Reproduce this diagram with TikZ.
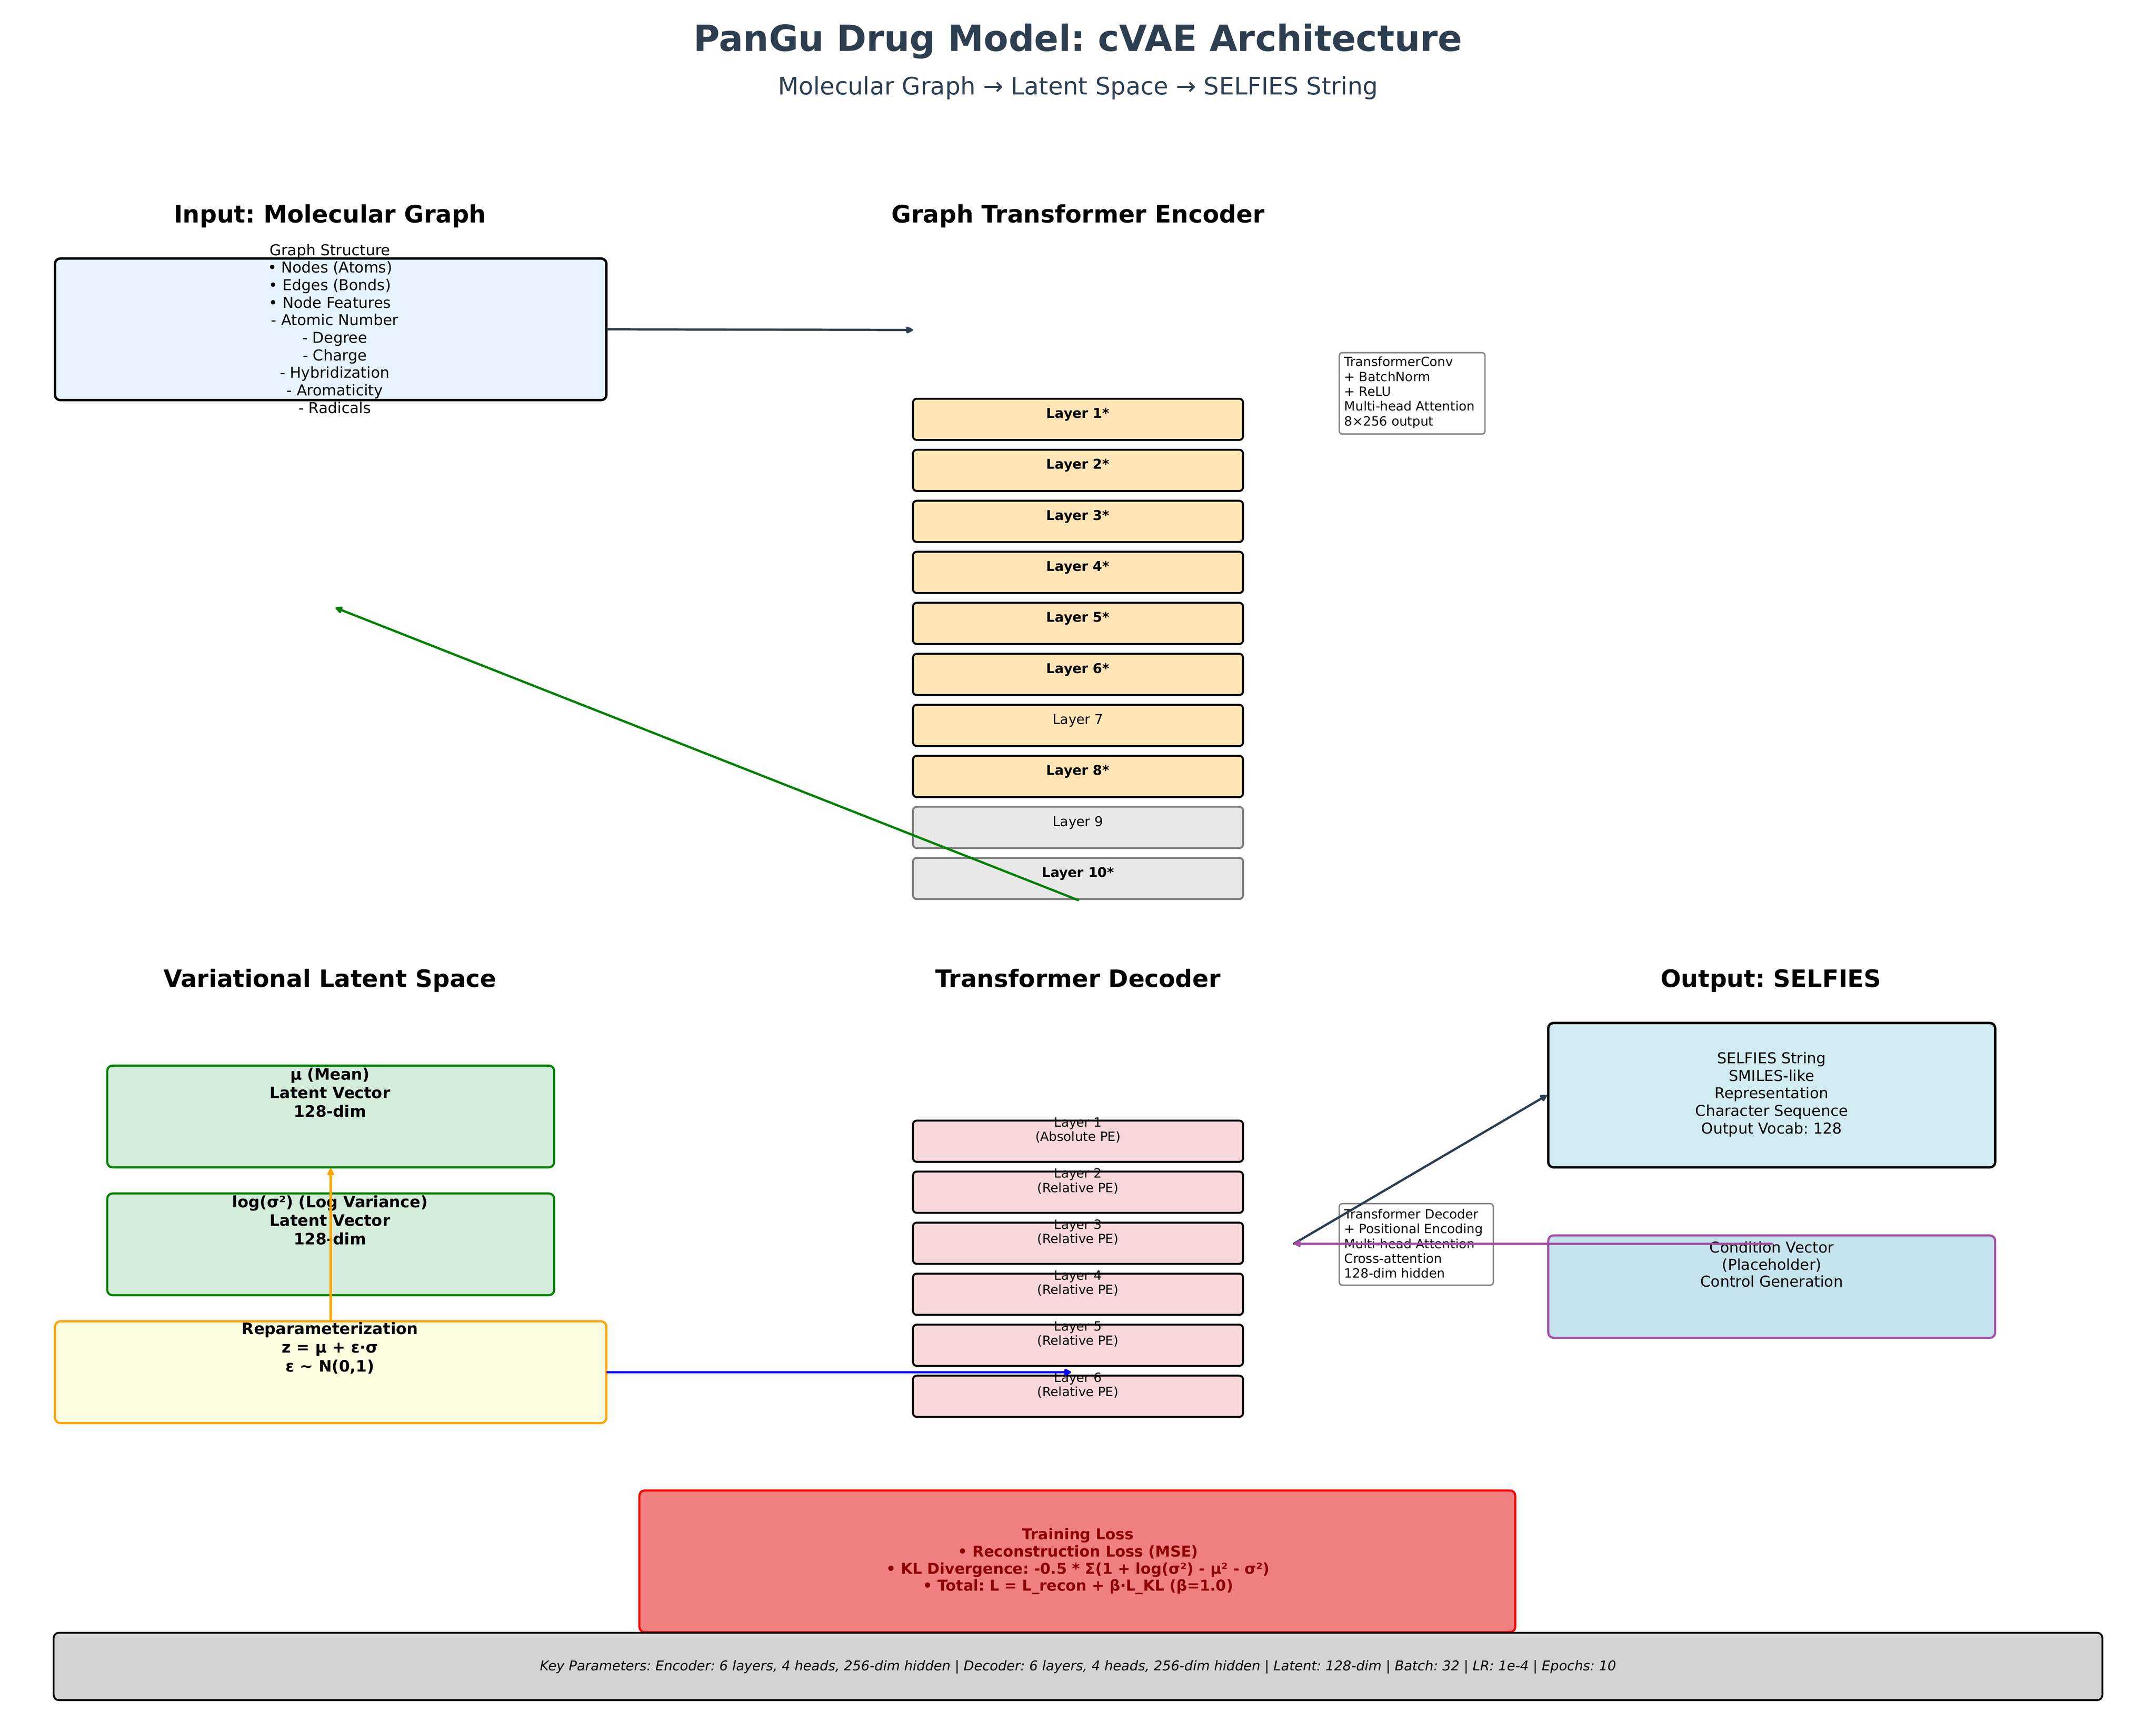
\documentclass[tikz,border=0pt]{standalone}
\usepackage{fontspec}
\setmainfont{DejaVu Sans}
\usetikzlibrary{fit,arrows.meta}

\definecolor{titlecol}{HTML}{2C3E50}
\definecolor{inputfill}{HTML}{E7F3FC}
\definecolor{encfill}{HTML}{FFE4B5}
\definecolor{offfill}{HTML}{E8E8E8}
\definecolor{latfill}{HTML}{D4EDDA}
\definecolor{latline}{HTML}{008000}
\definecolor{repfill}{HTML}{FFFDE0}
\definecolor{repline}{HTML}{FFA500}
\definecolor{decfill}{HTML}{F8D7DA}
\definecolor{outfill}{HTML}{D1ECF1}
\definecolor{condfill}{HTML}{C5E3ED}
\definecolor{condline}{HTML}{A64DA6}
\definecolor{lossfill}{HTML}{F08080}
\definecolor{losstext}{HTML}{8B0000}
\definecolor{paramfill}{HTML}{D3D3D3}

\tikzset{
  box/.style={draw, line width=1.4pt, rounded corners=3.5pt, inner sep=0pt},
  enclayer/.style={box, line width=1.3pt, rounded corners=2.5pt},
  note/.style={draw=gray, line width=0.9pt, rounded corners=2pt, fill=white, inner sep=0pt},
  notetext/.style={font=\fontsize{8.5}{9.9}\selectfont, align=left, anchor=west, inner sep=0pt},
  header/.style={font=\fontsize{16}{19}\selectfont\bfseries, text height=12.2pt, text depth=3.8pt},
  txt/.style={font=\fontsize{10}{11.7}\selectfont, align=center, inner sep=0pt},
  btxt/.style={txt, font=\fontsize{10.5}{12.4}\selectfont\bfseries},
  link/.style={->, line width=1.5pt, line cap=round},
}
\frenchspacing

\begin{document}
\begin{tikzpicture}[x=0.032236cm, y=-0.032236cm, >={Triangle[length=5.5pt,width=5pt,round]}]
\fill[white] (0,0) rectangle (1568,1253);
% titles
\node[font=\fontsize{24}{29}\selectfont\bfseries, text=titlecol] (title) at (784,30) {PanGu Drug Model: cVAE Architecture};
\node[font=\fontsize{16}{19}\selectfont, text=titlecol] (subtitle) at (784,64) {Molecular Graph → Latent Space → SELFIES String};
\node[header] (h-input) at (240,157.5) {Input: Molecular Graph};
\node[header] (h-enc) at (784,157.5) {Graph Transformer Encoder};
\node[header] (h-latent) at (240,713.5) {Variational Latent Space};
\node[header] (h-dec) at (784,713.5) {Transformer Decoder};
\node[header] (h-out) at (1288,713.5) {Output: SELFIES};

% input graph
\node[box, line width=1.6pt, fill=inputfill, fit={(40,188) (441,291)}] (input) {};
\node[txt] (input-txt) at (240,239) {Graph Structure\\• Nodes (Atoms)\\• Edges (Bonds)\\• Node Features\\\mbox{}\ \ - Atomic Number\\\mbox{}\ \ - Degree\\\mbox{}\ \ - Charge\\\mbox{}\ \ - Hybridization\\\mbox{}\ \ - Aromaticity\\\mbox{}\ \ - Radicals};

% encoder stack
\foreach \i/\lbl/\fc/\dc/\wt in {1/Layer 1*/encfill/black/\bfseries, 2/Layer 2*/encfill/black/\bfseries,
    3/Layer 3*/encfill/black/\bfseries, 4/Layer 4*/encfill/black/\bfseries, 5/Layer 5*/encfill/black/\bfseries,
    6/Layer 6*/encfill/black/\bfseries, 7/Layer 7/encfill/black/\mdseries, 8/Layer 8*/encfill/black/\bfseries,
    9/Layer 9/offfill/gray/\mdseries, 10/Layer 10*/offfill/gray/\bfseries}{
  \pgfmathsetmacro\ytop{290+37.1*(\i-1)}
  \node[enclayer, draw=\dc, fill=\fc, fit={(664,\ytop) (904,\ytop+30)}] (enc\i) {};
  \node[font=\fontsize{9}{11}\selectfont\wt, inner sep=0pt] (enc\i-txt) at (784,\ytop+11.5) {\lbl};
}
\node[note, fit={(974,256.5) (1080,315.7)}] (encnote) {};
\node[notetext] (encnote-txt) at (977.5,285.5) {TransformerConv\\+ BatchNorm\\+ ReLU\\Multi-head Attention\\8×256 output};

% latent space
\node[box, draw=latline, fill=latfill, fit={(78,775) (403,849)}] (mu) {};
\node[btxt] (mu-txt) at (240,794.7) {μ (Mean)\\Latent Vector\\128-dim};
\node[box, draw=latline, fill=latfill, fit={(78,868) (403,942)}] (logvar) {};
\node[btxt] (logvar-txt) at (240,887.5) {log(σ²) (Log Variance)\\Latent Vector\\128-dim};
\node[box, draw=repline, fill=repfill, fit={(40,961) (441,1035)}] (reparam) {};
\node[btxt] (reparam-txt) at (240,980.5) {Reparameterization\\z = μ + ε·σ\\ε \textasciitilde{} N(0,1)};

% decoder stack
\foreach \i/\pe in {1/Absolute, 2/Relative, 3/Relative, 4/Relative, 5/Relative, 6/Relative}{
  \pgfmathsetmacro\ytop{815+37.1*(\i-1)}
  \node[enclayer, fill=decfill, fit={(664,\ytop) (904,\ytop+30)}] (dec\i) {};
  \node[font=\fontsize{8.5}{9.6}\selectfont, align=center, inner sep=0pt] (dec\i-txt) at (784,\ytop+7) {Layer \i\\(\pe\ PE)};
}
\node[note, fit={(974,875.4) (1086,934.7)}] (decnote) {};
\node[notetext] (decnote-txt) at (977.5,904.4) {Transformer Decoder\\+ Positional Encoding\\Multi-head Attention\\Cross-attention\\128-dim hidden};

% output
\node[box, line width=1.6pt, fill=outfill, fit={(1126,744) (1451,849)}] (selfies) {};
\node[txt] (selfies-txt) at (1288.5,796) {SELFIES String\\SMILES-like\\Representation\\Character Sequence\\Output Vocab: 128};
\node[box, draw=condline, fill=condfill, fit={(1126,898.5) (1451,973)}] (cond) {};
\node[txt, font=\fontsize{10}{11.35}\selectfont] (cond-txt) at (1288.5,919.5) {Condition Vector\\(Placeholder)\\Control Generation};

% loss and parameters
\node[box, draw=red, fill=lossfill, fit={(465,1084) (1102,1187)}] (loss) {};
\node[txt, font=\fontsize{10}{11.5}\selectfont\bfseries, text=losstext] (loss-txt) at (784,1135.5) {Training Loss\\• Reconstruction Loss (MSE)\\• KL Divergence: -0.5 * Σ(1 + log(σ²) - μ² - σ²)\\• Total: L = L\_recon + β·L\_KL (β=1.0)};
\node[box, line width=1.2pt, fill=paramfill, fit={(39,1187.5) (1529,1236.5)}] (params) {};
\node[font=\fontsize{9}{10}\selectfont\itshape, inner sep=0pt] (params-txt) at (784,1212.3) {Key Parameters: Encoder: 6 layers, 4 heads, 256-dim hidden | Decoder: 6 layers, 4 heads, 256-dim hidden | Latent: 128-dim | Batch: 32 | LR: 1e-4 | Epochs: 10};

% connectors
\coordinate (encin) at (664,240);
\coordinate (back) at (244,442);
\coordinate (decin) at (779,998);
\coordinate (hub) at (941,904.5);
\draw[link, titlecol] (input.east) -- (encin);
\draw[link, latline] (enc10.south) -- (back);
\draw[link, repline] (reparam.north) -- (mu.south);
\draw[link, blue] (reparam.east) -- (decin);
\draw[link, titlecol] (hub) -- (selfies.west);
\draw[link, condline] (hub -| cond.north) -- (hub);
\end{tikzpicture}
\end{document}
